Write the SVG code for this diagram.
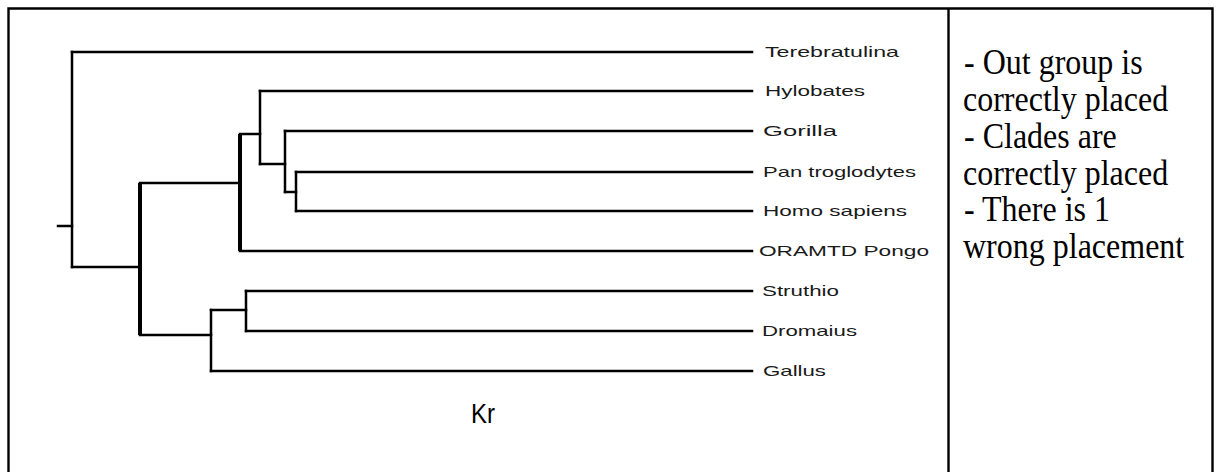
<svg xmlns="http://www.w3.org/2000/svg" width="1216" height="472" viewBox="0 0 1216 472">
<style>
.frame{stroke:#000;stroke-width:2.4;fill:none}
.br{stroke:#000;stroke-width:2.5;fill:none;stroke-linecap:square}
.thick{stroke:#000;stroke-width:4;fill:none}
.lbl{font-family:"Liberation Sans",Arial,sans-serif;font-size:15px;fill:#1a1a1a}
.note{font-family:"Liberation Serif","Times New Roman",serif;font-size:32px;fill:#000}
.kr{font-family:"Liberation Sans",Arial,sans-serif;font-size:27px;fill:#000}
</style>
<rect width="1216" height="472" fill="#fff"/>
<g id="frame">
<path class="frame" d="M8.5 472V8.5H1212.5V472M948.5 8.5V472"/>
</g>
<g id="connectors">
<path class="br" d="M58 226H72"/>
<path class="br" d="M72 52V267"/>
<path class="br" stroke-width="2" d="M72 52H752"/>
<path class="br" d="M72 267H140"/>
<path class="thick" d="M140 183V335"/>
<path class="br" d="M140 183H240"/>
<path class="thick" d="M240 134V251"/>
<path class="br" stroke-width="3" d="M240 251H752"/>
<path class="br" d="M240 134H260"/>
<path class="br" stroke-width="3" d="M260 91V164"/>
<path class="br" stroke-width="2.8" d="M260 91H752"/>
<path class="br" d="M260 164H285"/>
<path class="br" stroke-width="3.2" d="M285 131V192"/>
<path class="br" stroke-width="2.8" d="M285 131H752"/>
<path class="br" d="M285 192H296"/>
<path class="br" stroke-width="3.2" d="M296 172V211"/>
<path class="br" d="M296 172H752"/>
<path class="br" stroke-width="2.8" d="M296 211H752"/>
<path class="br" d="M140 335H211"/>
<path class="br" stroke-width="3" d="M211 310V371"/>
<path class="br" d="M211 371H752"/>
<path class="br" d="M211 310H246"/>
<path class="br" stroke-width="3.2" d="M246 291V331"/>
<path class="br" stroke-width="2.8" d="M246 291H752"/>
<path class="br" d="M246 331H752"/>
</g>
<g id="leaf-terebratulina"><text class="lbl" x="765" y="57" textLength="134" lengthAdjust="spacingAndGlyphs">Terebratulina</text></g>
<g id="leaf-hylobates"><text class="lbl" x="765" y="96" textLength="100" lengthAdjust="spacingAndGlyphs">Hylobates</text></g>
<g id="leaf-gorilla"><text class="lbl" x="763" y="136" textLength="74" lengthAdjust="spacingAndGlyphs">Gorilla</text></g>
<g id="leaf-pan"><text class="lbl" x="763" y="177" textLength="153" lengthAdjust="spacingAndGlyphs">Pan troglodytes</text></g>
<g id="leaf-homo"><text class="lbl" x="763" y="216" textLength="144" lengthAdjust="spacingAndGlyphs">Homo sapiens</text></g>
<g id="leaf-pongo"><text class="lbl" x="759" y="256" textLength="170" lengthAdjust="spacingAndGlyphs">ORAMTD Pongo</text></g>
<g id="leaf-struthio"><text class="lbl" x="762" y="296" textLength="77" lengthAdjust="spacingAndGlyphs">Struthio</text></g>
<g id="leaf-dromaius"><text class="lbl" x="762" y="336" textLength="95" lengthAdjust="spacingAndGlyphs">Dromaius</text></g>
<g id="leaf-gallus"><text class="lbl" x="763" y="376" textLength="63" lengthAdjust="spacingAndGlyphs">Gallus</text></g>
<g id="caption"><text class="kr" x="471" y="423" textLength="24" lengthAdjust="spacingAndGlyphs">Kr</text></g>
<g id="notes">
<text class="note" transform="translate(964 74.3) scale(1 1.12)">- Out group is</text>
<text class="note" transform="translate(963 111) scale(1 1.12)">correctly placed</text>
<text class="note" transform="translate(964 147.7) scale(1 1.12)">- Clades are</text>
<text class="note" transform="translate(963 184.5) scale(1 1.12)">correctly placed</text>
<text class="note" transform="translate(964 221.2) scale(1 1.12)">- There is 1</text>
<text class="note" transform="translate(963 258) scale(1 1.12)">wrong placement</text>
</g>
</svg>
